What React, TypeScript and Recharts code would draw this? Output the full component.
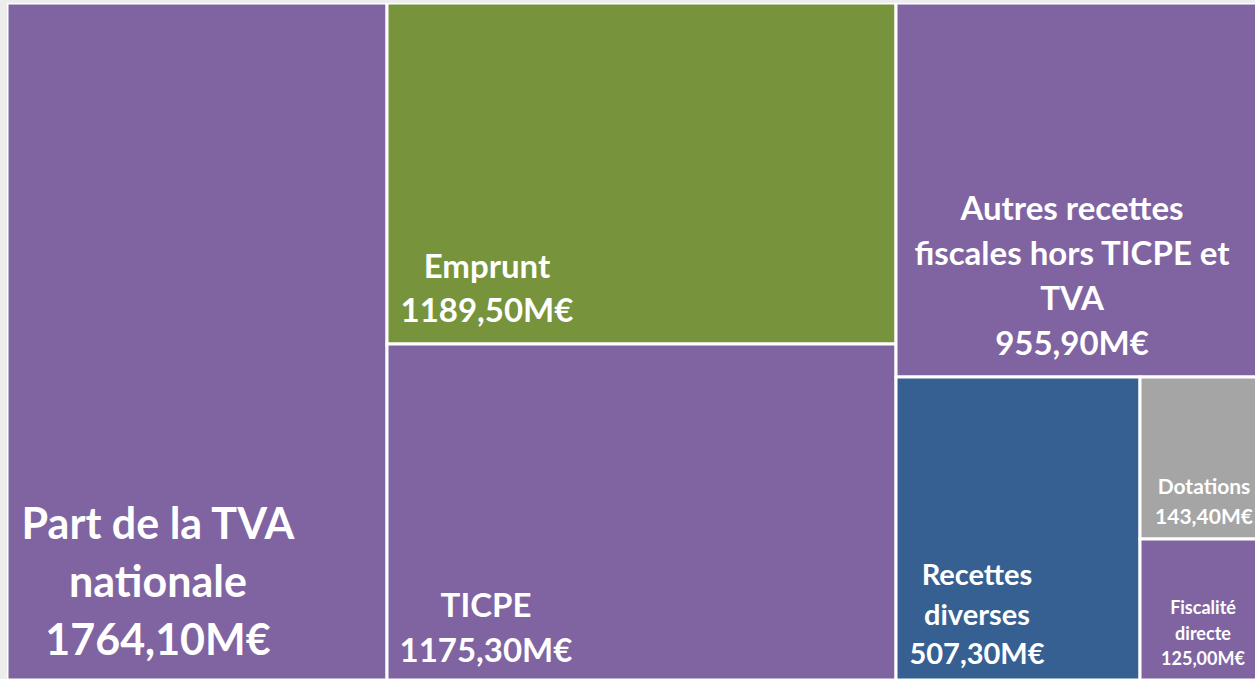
import { Treemap } from 'recharts'

const categories = [
  'Part de la TVA nationale',
  'Emprunt',
  'TICPE',
  'Autres recettes fiscales hors TICPE et TVA',
  'Recettes diverses',
  'Dotations',
  'Fiscalité directe',
]
const values = [1764.1, 1189.5, 1175.3, 955.9, 507.3, 143.4, 125.0]
const labelLines = [
  ['Part de la TVA', 'nationale'],
  ['Emprunt'],
  ['TICPE'],
  ['Autres recettes', 'fiscales hors TICPE et', 'TVA'],
  ['Recettes', 'diverses'],
  ['Dotations'],
  ['Fiscalité', 'directe'],
]
const colors = ['#8064A2', '#77933C', '#8064A2', '#8064A2', '#376092', '#A5A5A5', '#8064A2']

// label placement relative to the cell's top-left corner: center x, first baseline, font size, line gap
const labelStyle = [
  { dx: 151, dy: 536, size: 43, gap: 58 },
  { dx: 100, dy: 275, size: 33, gap: 44 },
  { dx: 99, dy: 273, size: 33, gap: 45 },
  { dx: 176, dy: 217, size: 33, gap: 45 },
  { dx: 81, dy: 208, size: 29, gap: 39.5 },
  { dx: 64, dy: 117, size: 21, gap: 30 },
  { dx: 63, dy: 75, size: 18, gap: 25.5 },
]

const leaf = (i: number) => ({ name: categories[i], value: values[i], idx: i })

const treeData = [
  { name: 'g1', children: [leaf(0)] },
  { name: 'g2', children: [leaf(1), leaf(2)] },
  {
    name: 'g3',
    children: [
      leaf(3),
      { name: 'g3b', children: [leaf(4), { name: 'g3c', children: [leaf(5), leaf(6)] }] },
    ],
  },
]

const fmt = (v: number) => v.toFixed(2).replace('.', ',') + 'M€'

function Cell(props: any) {
  const { x, y, width, height, children, idx } = props
  if ((children && children.length) || idx === undefined) return <g />
  const st = labelStyle[idx]
  const lines = [...labelLines[idx], fmt(values[idx])]
  return (
    <g>
      <rect x={x} y={y} width={width} height={height} fill={colors[idx]} stroke="#fff" strokeWidth={3} />
      {lines.map((t, k) => (
        <text
          key={k}
          x={x + st.dx}
          y={y + st.dy + k * st.gap}
          textAnchor="middle"
          fill="#fff"
          fontSize={st.size}
          fontWeight={700}
          fontFamily="Lato, sans-serif"
        >
          {t}
        </text>
      ))}
    </g>
  )
}

export default function App() {
  return (
    <div style={{ position: 'fixed', left: 0, top: 0, width: 1255, height: 679, overflow: 'hidden', background: '#ededed' }}>
      <div style={{ position: 'absolute', left: 7, top: 3 }}>
        <Treemap
          width={1262}
          height={677}
          data={treeData}
          dataKey="value"
          aspectRatio={0.2}
          isAnimationActive={false}
          content={<Cell />}
        />
      </div>
    </div>
  )
}
